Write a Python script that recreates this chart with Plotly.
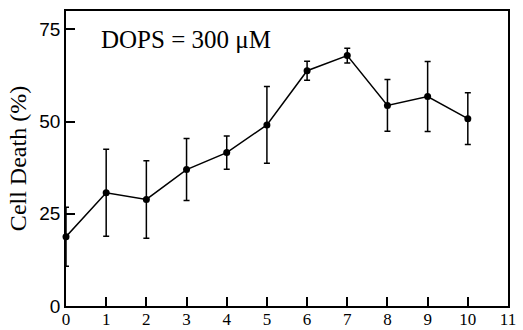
import plotly.graph_objects as go

x_vals = [0, 1, 2, 3, 4, 5, 6, 7, 8, 9, 10]
cell_death = [18.8, 30.7, 28.9, 37.0, 41.6, 49.1, 63.8, 67.9, 54.4, 56.8, 50.8]
err = [8.0, 11.8, 10.5, 8.4, 4.5, 10.4, 2.6, 2.0, 7.0, 9.5, 7.0]
x_ticks = list(range(0, 12))
y_ticks = [0, 25, 50, 75]

fig = go.Figure()
fig.add_trace(go.Scatter(
    x=x_vals, y=cell_death, mode="lines+markers",
    line=dict(color="black", width=1.5),
    marker=dict(color="black", size=7),
    error_y=dict(type="data", array=err, visible=True, color="black", thickness=1.5, width=3),
    cliponaxis=False,
))

fig.add_annotation(
    text="DOPS = 300 μM", xref="paper", yref="paper", x=0.074, y=0.905,
    xanchor="left", yanchor="middle", showarrow=False,
    font=dict(family="Liberation Serif", size=25, color="black"),
)

fig.update_layout(
    width=523, height=330,
    margin=dict(l=66, r=15, t=11, b=24),
    paper_bgcolor="white", plot_bgcolor="white",
    showlegend=False,
)
fig.update_xaxes(
    range=[0, 11], tickvals=x_ticks, ticktext=[str(t) for t in x_ticks],
    ticks="inside", ticklen=9, tickwidth=1.5, tickcolor="black",
    showline=True, linecolor="black", linewidth=1.5, mirror=True,
    showgrid=False, zeroline=False, automargin=False,
    ticklabelstandoff=-3,
    tickfont=dict(family="Liberation Serif", size=17, color="black"),
)
fig.update_yaxes(
    range=[0, 80], tickvals=y_ticks, ticktext=[str(t) for t in y_ticks],
    ticks="inside", ticklen=9, tickwidth=1.5, tickcolor="black",
    showline=True, linecolor="black", linewidth=1.5, mirror=True,
    showgrid=False, zeroline=False, automargin=False,
    tickfont=dict(family="Liberation Sans", size=19, color="black"),
    title=dict(text="Cell Death (%)", font=dict(family="Liberation Serif", size=24, color="black"), standoff=6),
)

fig.write_html(
    "out.html",
    config={"displayModeBar": False},
    post_script="document.body.style.margin='0';document.body.style.overflow='hidden';",
)
